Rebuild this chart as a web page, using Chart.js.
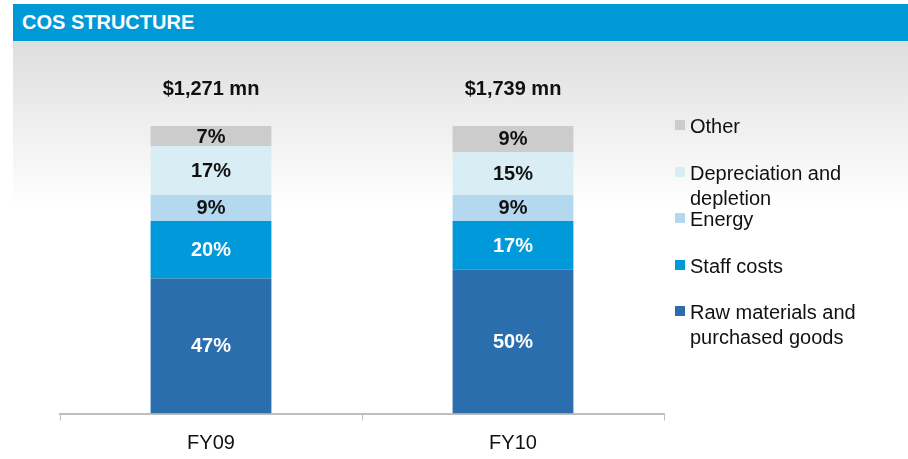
<!DOCTYPE html>
<html>
<head>
<meta charset="utf-8">
<script src="https://cdn.jsdelivr.net/npm/chart.js@4"></script>
<style>
	body { margin:0; width:908px; height:459px; overflow:hidden; background:#fff; font-family:"Liberation Sans", Arial, sans-serif; position:relative; }
	#header { position:absolute; left:13px; top:4px; width:895px; height:37px; background:#0099d8; color:#fff; font-weight:bold; font-size:20px; line-height:37px; padding-left:9px; box-sizing:border-box; }
	#panel { position:absolute; left:13px; top:41px; right:0; bottom:0; background:linear-gradient(#dedede 0px, #ffffff 165px, #ffffff 100%); }
	#chart { position:absolute; left:0; top:0; }
	#legend { position:absolute; left:675px; top:114px; }
	.item { position:relative; height:46.6px; }
	.box { position:absolute; left:0; top:6px; width:10px; height:10px; }
	.txt { position:absolute; left:15px; top:0; font-size:20px; line-height:25px; color:#111; white-space:nowrap; }
</style>
</head>
<body>
<div id="panel"></div>
<div id="header">COS STRUCTURE</div>
<canvas id="chart" width="908" height="459"></canvas>
<div id="legend"></div>
<script>
var categories = ["FY09", "FY10"];
var totals = ["$1,271 mn", "$1,739 mn"];

var seriesNames = [["Raw materials and", "purchased goods"], ["Staff costs"], ["Energy"], ["Depreciation and", "depletion"], ["Other"]];
var seriesColors = ["#2b6eae", "#009ada", "#b4d8ef", "#d9edf5", "#cccccc"];
var labelColors = ["#ffffff", "#ffffff", "#111111", "#111111", "#111111"];

var rawMaterials = [47, 50];
var staffCosts = [20, 17];
var energy = [9, 9];
var depreciation = [17, 15];
var other = [7, 9];

var seriesValues = [rawMaterials, staffCosts, energy, depreciation, other];

var FONT = '"Liberation Sans", Arial, sans-serif';

var datasets = [];
for (var i = 0; i < seriesValues.length; i++) {
	datasets.push({
		label: seriesNames[i].join(" "),
		data: seriesValues[i],
		backgroundColor: seriesColors[i],
		borderWidth: 0,
		barPercentage: 1,
		categoryPercentage: 0.4
	});
}

// percentages inside the segments + totals above the bars
var barLabels = {
	id: "barLabels",
	afterDatasetsDraw: function(chart) {
		var ctx = chart.ctx;
		ctx.save();
		ctx.textAlign = "center";
		ctx.textBaseline = "middle";
		ctx.font = "bold 20px " + FONT;
		chart.data.datasets.forEach(function(ds, di) {
			var meta = chart.getDatasetMeta(di);
			meta.data.forEach(function(bar, j) {
				ctx.fillStyle = labelColors[di];
				ctx.fillText(ds.data[j] + "%", bar.x, (bar.y + bar.base) / 2 + 1);
			});
		});
		var top = chart.getDatasetMeta(chart.data.datasets.length - 1);
		ctx.fillStyle = "#111";
		top.data.forEach(function(bar, j) {
			ctx.fillText(totals[j], bar.x, bar.y - 37);
		});
		ctx.restore();
	}
};

var chart = new Chart(document.getElementById("chart").getContext("2d"), {
	type: "bar",
	data: { labels: categories, datasets: datasets },
	options: {
		responsive: false,
		animation: false,
		devicePixelRatio: 1,
		layout: { padding: { left: 60, right: 244, top: 126, bottom: 4.5 } },
		plugins: { legend: { display: false }, tooltip: { enabled: false } },
		scales: {
			x: {
				stacked: true,
				afterFit: function(scale) { scale.height = 41; },
				grid: { display: true, drawOnChartArea: false, drawTicks: true, tickLength: 7, color: "#bfbfbf", offset: true },
				border: { display: true, color: "#bfbfbf", width: 2 },
				ticks: { color: "#111", font: { family: FONT, size: 20 }, padding: 11 }
			},
			y: { stacked: true, display: false, min: 0, max: 100 }
		}
	},
	plugins: [barLabels]
});

// legend, top series first
var legend = document.getElementById("legend");
for (var k = seriesNames.length - 1; k >= 0; k--) {
	var item = document.createElement("div");
	item.className = "item";
	item.innerHTML = '<div class="box" style="background:' + seriesColors[k] + '"></div><div class="txt">' + seriesNames[k].join("<br>") + '</div>';
	legend.appendChild(item);
}
</script>
</body>
</html>
